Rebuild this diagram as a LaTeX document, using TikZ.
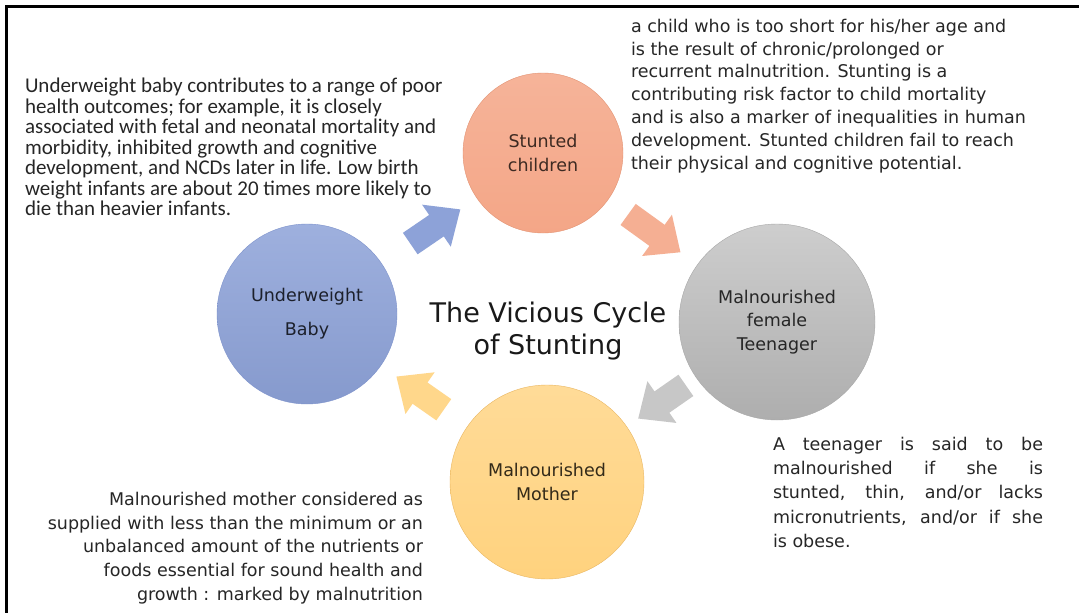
\documentclass[tikz,border=0pt]{standalone}
\usepackage{fontspec}
\setmainfont{Carlito}
\newfontfamily\comicfont{DejaVu Sans}
\usetikzlibrary{arrows.meta}
\definecolor{stuntfill}{HTML}{F4A687}
\definecolor{stuntline}{HTML}{E39373}
\definecolor{babyfill}{HTML}{8DA2D8}
\definecolor{babyline}{HTML}{7D92CC}
\definecolor{teenfill}{HTML}{BDBDBD}
\definecolor{teenline}{HTML}{A8A8A8}
\definecolor{motherfill}{HTML}{FFD27E}
\definecolor{motherline}{HTML}{E9B762}
\definecolor{notegray}{HTML}{262626}
\begin{document}
\begin{tikzpicture}[x=1pt,y=-1pt,inner sep=0pt,outer sep=0pt,
cyclenode/.style={draw,circle,thin,align=center,font=\comicfont\fontsize{17.5}{23.5}\selectfont},
blockarrow/.style={line width=26pt,-{Triangle[width=49pt,length=29pt]}},
notetext/.style={font=\comicfont\fontsize{17.5}{23.5}\selectfont,text=notegray}]
\useasboundingbox (0,0) rectangle (1079,613);
\fill[white] (0,0) rectangle (1079,613);
\draw[line width=3pt] (6.5,613) -- (6.5,6.5) -- (1079,6.5);
% the four stages of the cycle
\draw (543,153) node[cyclenode,minimum size=160pt,draw=stuntline,top color=stuntfill!85!white,bottom color=stuntfill,text=stuntfill!25!black] (stunted) {Stunted\\children};
\draw (777,322) node[cyclenode,minimum size=196pt,draw=teenline,top color=teenfill!75!white,bottom color=teenfill!92!black,text=notegray] (teen) {Malnourished\\female\\Teenager};
\draw (547,482) node[cyclenode,minimum size=194pt,draw=motherline,top color=motherfill!80!white,bottom color=motherfill,text=motherfill!20!black] (mother) {Malnourished\\Mother};
\draw (307,314) node[cyclenode,minimum size=180pt,draw=babyline,top color=babyfill!85!white,bottom color=babyfill!95!black,text=babyfill!20!black,font=\comicfont\fontsize{17.5}{34}\selectfont] (baby) {Underweight\\Baby};
\draw (548,331) node[font=\comicfont\fontsize{27}{32}\selectfont,align=center,text=black!90] (title) {The Vicious Cycle\\of Stunting};
% arrows between the stages
\draw[blockarrow,draw=babyfill,shorten <=35pt,shorten >=20pt] (baby) -- (stunted);
\draw[blockarrow,draw=stuntfill!90!white,shorten <=25pt,shorten >=21pt] (stunted) -- (teen);
\draw[blockarrow,draw=teenfill!85!white,shorten <=13pt,shorten >=14pt] (teen) -- (mother);
\draw[blockarrow,draw=motherfill!90!white,shorten <=29pt,shorten >=19pt] (mother) -- (baby);
% notes
\draw (25,78) node[anchor=north west,align=left,text=notegray,font=\fontsize{21}{20.5}\selectfont] (babynote) {Underweight baby contributes to a range of poor\\
health outcomes; for example, it is closely\\
associated with fetal and neonatal mortality and\\
morbidity, inhibited growth and cognitive\\
development, and NCDs later in life. Low birth\\
weight infants are about 20 times more likely to\\
die than heavier infants.};
\draw (631,19) node[notetext,anchor=north west,align=left,font=\comicfont\fontsize{17.5}{22.8}\selectfont] (stuntnote) {a child who is too short for his/her age and\\
is the result of chronic/prolonged or\\
recurrent malnutrition. Stunting is a\\
contributing risk factor to child mortality\\
and is also a marker of inequalities in human\\
development. Stunted children fail to reach\\
their physical and cognitive potential.};
\draw (423,492) node[notetext,anchor=north east,align=right,font=\comicfont\fontsize{17.5}{23.8}\selectfont] (mothernote) {Malnourished mother considered as\\
supplied with less than the minimum or an\\
unbalanced amount of the nutrients or\\
foods essential for sound health and\\
growth : marked by malnutrition};
\draw (773,437) node[notetext,anchor=north west,align=left,font=\comicfont\fontsize{17.5}{24.3}\selectfont] (teennote) {\makebox[270pt][s]{A teenager is said to be}\\
\makebox[270pt][s]{malnourished if she is}\\
\makebox[270pt][s]{stunted, thin, and/or lacks}\\
\makebox[270pt][s]{micronutrients, and/or if she}\\
is obese.};
\end{tikzpicture}
\end{document}
